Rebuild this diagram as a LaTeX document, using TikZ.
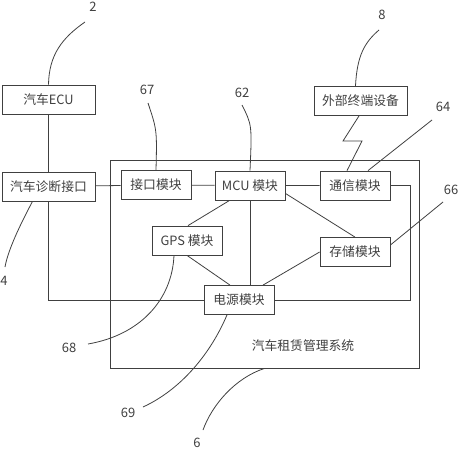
\documentclass[tikz,border=0pt]{standalone}
\usepackage{fontspec}
\setmainfont{Noto Sans CJK SC}
\begin{document}
\begin{tikzpicture}[x=1pt, y=-1pt, line width=0.8pt, color=black!75,
  box/.style={draw, minimum height=29pt, minimum width=70pt, inner sep=0pt,
    font=\fontsize{12.8}{14}\selectfont},
  widebox/.style={box, minimum width=93pt},
  num/.style={inner sep=1pt, font=\fontsize{13}{15}\selectfont}]
  \useasboundingbox (0,0) rectangle (460,450);

  % system frame
  \node[draw, minimum width=309pt, minimum height=208pt, inner sep=0pt] (sysbox) at (264.5,264) {};
  \node[font=\fontsize{12.8}{14}\selectfont] (syslabel) at (303,346) {汽车租赁管理系统};

  % modules
  \node[widebox] (ecu) at (48.5,99.5) {汽车ECU};
  \node[widebox] (obd) at (48.5,186.5) {汽车诊断接口};
  \node[widebox] (ext) at (360.5,101) {外部终端设备};
  \node[box] (jk)  at (156,185) {接口模块};
  \node[box] (mcu) at (250,185.5) {MCU 模块};
  \node[box] (tx)  at (355,185.5) {通信模块};
  \node[box] (gps) at (187,240.5) {GPS 模块};
  \node[box] (cc)  at (355,252) {存储模块};
  \node[box] (dy)  at (239,300) {电源模块};

  % wiring
  \draw (ecu) -- (obd);
  \draw (obd) -- (jk) -- (mcu) -- (tx);
  \draw (mcu.south) -- (mcu.south |- dy.north);
  \draw ([xshift=15pt]mcu.south west) -- ([xshift=1pt]gps.north);
  \draw ([yshift=7pt]mcu.south east) -- (cc.north);
  \draw (gps.south) -- ([xshift=-9pt]dy.north);
  \draw (cc.west) -- ([xshift=24pt]dy.north);
  \draw (tx.east) -- ++(20,0) |- (dy.east);
  \draw (obd.south) |- (dy.west);
  \coordinate (zz1) at (343,141);
  \coordinate (zz2) at (362,141);
  \draw ([xshift=-1.5pt]ext.south) -- (zz1) -- (zz2) -- ([xshift=-8pt]tx.north);

  % reference numbers
  \foreach \n/\x/\y/\t in {n2/93/7/2, n67/147/90/67, n62/242/93/62, n8/382/15/8,
      n64/443/107/64, n66/451/190/66, n4/4/281/4, n68/69/348/68,
      n69/128/413/69, n6/197/443/6}
    \node[num] (\n) at (\x,\y) {\t};

  \foreach \n/\x/\y in {c2/85/22, c67/148/103, c62/242/105, c8/379/30, c64/432/120,
      c66/443/202, c4/5/267, c68/88/344, c69/143/407, c6/203/430}
    \coordinate (\n) at (\x,\y);

  \draw (ecu.north) .. controls (49,55) and (62,38) .. (c2);
  \draw (jk.north) .. controls (157,130) .. (c67);
  \draw (mcu.north) .. controls (252,125) .. (c62);
  \draw ([xshift=-5pt]ext.north) .. controls (357,55) and (365,42) .. (c8);
  \draw ([xshift=13pt]tx.north) -- (c64);
  \draw ([yshift=7pt]cc.east) -- (c66);
  \draw ([xshift=-16pt]obd.south) .. controls (20,225) and (8,250) .. (c4);
  \draw ([xshift=-13pt]gps.south) .. controls (172,300) and (140,335) .. (c68);
  \draw ([xshift=-12pt]dy.south) .. controls (210,355) and (180,390) .. (c69);
  \draw (sysbox.south) .. controls (235,378) and (212,405) .. (c6);
\end{tikzpicture}
\end{document}
